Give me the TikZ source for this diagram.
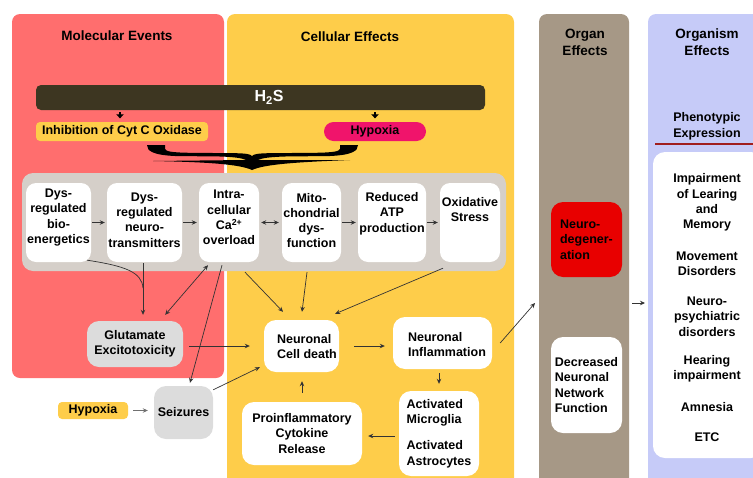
\documentclass[tikz,border=0pt]{standalone}
\usepackage{fontspec}
\setmainfont{Liberation Sans}
\usepackage{xcolor}
\definecolor{molred}{HTML}{FF6E6E}
\definecolor{cellyel}{HTML}{FECD4A}
\definecolor{organbrn}{HTML}{A69886}
\definecolor{organismblu}{HTML}{C6CBF8}
\definecolor{hsbar}{HTML}{3D3621}
\definecolor{hypopink}{HTML}{F0146B}
\definecolor{grpgray}{HTML}{D5CFC9}
\definecolor{boxgray}{HTML}{DCDCDC}
\definecolor{neured}{HTML}{E80000}
\definecolor{linered}{HTML}{A01E1E}
\definecolor{arrgray}{HTML}{333333}
\usetikzlibrary{arrows.meta, calc}

\begin{document}
\begin{tikzpicture}[
    x=1pt, y=-1pt,
    font=\fontsize{12.5}{15.3}\selectfont\bfseries,
    panel/.style={rounded corners=8pt},
    hdr/.style={font=\fontsize{13.5}{17}\selectfont\bfseries, align=center},
    rowbox/.style={fill=white, rounded corners=10pt, minimum height=79pt, inner sep=0pt},
    wbox/.style={fill=white, rounded corners=12pt, inner sep=0pt},
    gbox/.style={fill=boxgray, rounded corners=12pt, inner sep=0pt},
    tag/.style={rounded corners=4pt, inner sep=0pt, minimum height=19pt},
    arr/.style={-{Stealth[length=5pt,width=4.5pt]}, arrgray, line width=0.7pt},
    dblarr/.style={{Stealth[length=5pt,width=4.5pt]}-{Stealth[length=5pt,width=4.5pt]}, arrgray, line width=0.7pt},
    thinln/.style={arrgray, line width=0.7pt}
  ]
  \useasboundingbox (0,0) rectangle (753,477);
  \clip (0,0) rectangle (753,477);

  % Panels
  \fill[molred, panel] (12,14) rectangle (224,378);
  \fill[cellyel, panel] (227,14) rectangle (514,495);
  \fill[organbrn, panel] (539,14) rectangle (629,495);
  \fill[organismblu, panel] (648,14) rectangle (775,495);

  \node[hdr] (molhdr) at (117,35.5) {Molecular Events};
  \node[hdr] (cellhdr) at (350,37) {Cellular Effects};
  \node[hdr] (organhdr) at (585,42.5) {Organ\\Effects};
  \node[hdr] (orgismhdr) at (707,42.5) {Organism\\Effects};

  % H2S bar
  \node[fill=hsbar, rounded corners=5pt, minimum width=449pt, minimum height=25pt, inner sep=0pt] (hbar) at (260.5,97.5) {};
  \node[text=white, font=\fontsize{16}{19}\selectfont\bfseries] (htxt) at (269,97.5) {H\textsubscript{2}S};

  \node[tag, fill=cellyel, minimum width=172pt] (inh) at (122,131.5) {Inhibition of Cyt C Oxidase};
  \node[tag, fill=hypopink, rounded corners=9.5pt, minimum width=102pt] (hyp) at (375,131.5) {Hypoxia};

  \draw[-{Triangle[length=4pt,width=7.5pt]}, line width=1.6pt, black, shorten <=2pt, shorten >=3.5pt]
    ($(hbar.south -| inh.north)+(-2,0)$) -- ($(inh.north)+(-2,0)$);
  \draw[-{Triangle[length=4pt,width=7.5pt]}, line width=1.6pt, black, shorten <=2pt, shorten >=3.5pt]
    (hbar.south -| hyp.north) -- (hyp.north);

  % Brace
  \fill[black] (147,145) -- (165,145) -- (165,149)
    .. controls (166,151.5) and (172,152.5) .. (190,152.8) -- (236,153.2)
    .. controls (246,153.5) and (250,154) .. (252,156)
    .. controls (254,154) and (258,153.5) .. (268,153.2) -- (315,152.8)
    .. controls (333,152.5) and (339,151.5) .. (340,149) -- (340,145) -- (358,145)
    .. controls (358,151) and (352,155) .. (330,156) -- (285,156.5)
    .. controls (270,157) and (262,158) .. (258,160) -- (350,160)
    .. controls (300,162) and (265,164) .. (252,170)
    .. controls (239,164) and (205,162) .. (153,161) -- (246,160)
    .. controls (242,158) and (234,157) .. (220,156.5) -- (175,156)
    .. controls (153,155) and (147,151) .. (147,145) -- cycle;

  % Row of cellular events
  \node[fill=grpgray, rounded corners=11pt, minimum width=484pt, minimum height=98pt, inner sep=0pt] (grp) at (264,222) {};

  \node[rowbox, minimum width=65pt] (b1) at (58.5,222.5) {};
  \node[align=center] (t1) at (58.5,217.5) {Dys-\\regulated\\bio-\\energetics};
  \node[rowbox, minimum width=75pt] (b2) at (144.5,222.5) {};
  \node[align=center] (t2) at (144.5,220) {Dys-\\regulated\\neuro-\\transmitters};
  \node[rowbox, minimum width=60pt] (b3) at (229,222.5) {};
  \node[align=center] (t3) at (229,217.5) {Intra-\\cellular\\Ca\textsuperscript{2+}\\overload};
  \node[rowbox, minimum width=59pt] (b4) at (311.5,222.5) {};
  \node[align=center] (t4) at (311.5,220.5) {Mito-\\chondrial\\dys-\\function};
  \node[rowbox, minimum width=68pt] (b5) at (392,222.5) {};
  \node[align=center] (t5) at (392,213.5) {Reduced\\ATP\\production};
  \node[rowbox, minimum width=60pt] (b6) at (470,222.5) {};
  \node[align=center] (t6) at (470,209.5) {Oxidative\\Stress};

  \foreach \a/\b in {b1/b2, b2/b3, b4/b5, b5/b6}
    \draw[arr, shorten <=1pt, shorten >=2pt] (\a) -- (\b);
  \draw[dblarr, shorten <=2pt, shorten >=3pt] (b3) -- (b4);

  % Lower boxes
  \node[gbox, minimum width=96pt, minimum height=46pt, align=center] (glut) at (135,344) {Glutamate\\Excitotoxicity};
  \node[wbox, minimum width=75pt, minimum height=52pt] (death) at (301.5,346) {};
  \node[align=left] (death-t) at (307,346.5) {Neuronal\\Cell death};
  \node[wbox, minimum width=99pt, minimum height=52pt] (infl) at (442.5,343) {};
  \node[align=left] (infl-t) at (447,344.5) {Neuronal\\Inflammation};
  \node[gbox, minimum width=59pt, minimum height=53pt] (seiz) at (183.5,412.5) {Seizures};
  \node[tag, fill=cellyel, minimum width=70pt, minimum height=17pt] (hyp2) at (93,410.5) {Hypoxia};
  \node[wbox, minimum width=120pt, minimum height=63pt, align=center] (proinf) at (302,433.5) {Proinflammatory\\Cytokine\\Release};
  \node[wbox, minimum width=80pt, minimum height=85pt, align=left] (act) at (439,433.5) {Activated\\Microglia\\[11pt]Activated\\Astrocytes};

  % Organ effects
  \node[wbox, fill=neured, minimum width=71pt, minimum height=75pt, align=left] (neudeg) at (586.5,239.5) {Neuro-\\degener-\\ation};
  \node[wbox, minimum width=71pt, minimum height=96pt, align=left] (decr) at (586.5,385) {Decreased\\Neuronal\\Network\\Function};

  % Organism effects
  \node[align=center, font=\fontsize{12.5}{16}\selectfont\bfseries] (pheno) at (707,126) {Phenotypic\\Expression};
  \draw[linered, line width=1.5pt] (655,144) -- (760,144);
  \node[wbox, minimum width=110pt, minimum height=306pt] (plist) at (708,305) {};
  \foreach \txt/\y [count=\i] in {{Impairment\\of Learing\\and\\Memory}/202.5, {Movement\\Disorders}/263.5,
      {Neuro-\\psychiatric\\disorders}/316.5, {Hearing\\impairment}/368.5, {Amnesia}/407, {ETC}/437}
    \node[align=center] (ph\i) at (707,\y) {\txt};

  % Connectors
  \draw[arr] ($(b2.south)+(-1.5,1)$) -- ($(glut.north)+(8,-6)$);
  \draw[thinln] ($(b1.south east)+(-4,-2)$) .. controls (125,266) and (142,272) .. ($(b2.south)+(-1.5,26)$);
  \draw[dblarr] ($(b3.south)+(-21,3)$) -- ($(glut.north east)+(-18,-6)$);
  \draw[arr] ($(b3.south)+(-7,3)$) -- ($(seiz.north)+(6.5,-3)$);
  \draw[arr] ($(b3.south)+(16,10)$) -- ($(death.north)+(-18.5,-8)$);
  \draw[arr] ($(b4.south)+(-4.5,10)$) -- ($(death.north)+(0.5,-8)$);
  \draw[arr] ($(b6.south)+(-27,6)$) -- ($(death.north east)+(-4,-6)$);
  \draw[arr] ($(glut.east)+(6,2)$) -- ($(death.west)+(-14,0)$);
  \draw[arr] ($(seiz.north east)+(0,4)$) -- ($(death.south west)+(-4,-5)$);
  \draw[arr] ($(death.east)+(15,0)$) -- ($(death.east -| infl.west)+(-8,0)$);
  \draw[arr] ($(infl.south -| act.north)+(0,4)$) -- ($(act.north)+(0,-7)$);
  \draw[arr] ($(act.west)+(-4,2.5)$) -- ($(proinf.east)+(6,2.5)$);
  \draw[arr] ($(proinf.north)+(0,-9)$) -- ($(death.south)+(0.5,9)$);
  \draw[arr, arrgray!70] ($(hyp2.east)+(5,0)$) -- ($(hyp2.east -| seiz.west)+(-6,0)$);

  \coordinate (organin) at (535,303);
  \coordinate (organout) at (632,303);
  \coordinate (organismin) at (645,303);
  \draw[arr] ($(infl.east)+(8,0)$) -- (organin);
  \draw[arr] (organout) -- (organismin);
\end{tikzpicture}
\end{document}
